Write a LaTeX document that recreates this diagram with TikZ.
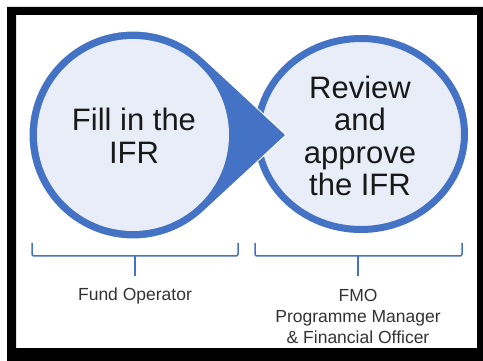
\documentclass[tikz,border=0pt]{standalone}
\usepackage{fontspec}
\setmainfont{Liberation Sans}
\definecolor{ifrblue}{RGB}{68,114,196}
\definecolor{ifrfill}{RGB}{233,237,247}

\begin{document}
\begin{tikzpicture}[x=1pt,y=-1pt,
  bracket/.style={draw=ifrblue,line width=1.5pt,rounded corners=2pt},
  big/.style={font=\fontsize{31}{32.5}\selectfont,align=center,text=black!90},
  small/.style={font=\fontsize{17.5}{21}\selectfont,align=center,text=black!80}]
\useasboundingbox (0,0) rectangle (483,361);
\clip (0,0) rectangle (483,361);
% frame
\fill[black,even odd rule] (7,7) rectangle (495,375) (16,15) rectangle (477,348);
\coordinate (lc) at (133,135);
\coordinate (rc) at (361,134);
\coordinate (tip) at (286,135);
% right circle
\draw[ifrblue,line width=7,fill=ifrfill] (rc) ellipse[x radius=103.5,y radius=95.5];
% left circle with its arrow
\filldraw[fill=ifrblue,draw=white,line width=1] (tip) -- ([shift={(46.8:104)}]lc)
  arc[start angle=46.8,end angle=313.2,radius=104] -- cycle;
\fill[ifrfill] (lc) circle[radius=96];
\node[big] (fill) at (134,136) {Fill in the\\IFR};
\node[big] (review) at (360,136) {Review\\and\\approve\\the IFR};
% brackets
\coordinate (lb) at (135,256);
\coordinate (rb) at (358,256);
\draw[bracket] (32,243) |- (238,256) -- (238,243);
\draw[bracket] (255,243) |- (462,256) -- (462,243);
\draw[bracket] (lb) -- ++(0,20);
\draw[bracket] (rb) -- ++(0,20);
\node[small,anchor=base] (fo) at (135,300) {Fund Operator};
\node[small,anchor=north] (fmo) at (358,286) {FMO\\Programme Manager\\\& Financial Officer};
\end{tikzpicture}
\end{document}
